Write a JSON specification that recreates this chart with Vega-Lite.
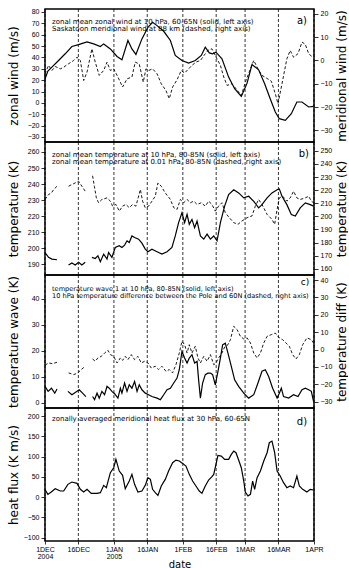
{
  "$schema": "https://vega.github.io/schema/vega-lite/v6.json",
  "padding": {"left": 6, "top": 7, "right": 0, "bottom": 0},
  "config": {
    "view": {"stroke": "black", "strokeWidth": 1.5},
    "axis": {"grid": false, "domain": false, "ticks": true, "tickColor": "black", "tickSize": 4, "tickWidth": 0.8, "labelFont": "Liberation Sans", "labelFontSize": 7, "labelColor": "black", "labelPadding": 2, "titleFont": "DejaVu Sans", "titleFontSize": 12, "titleFontWeight": "normal", "titleColor": "black"},
    "text": {"font": "DejaVu Sans", "color": "black"}
  },
  "datasets": {
    "dateLines": [{"day":0},{"day":15},{"day":31},{"day":46},{"day":62},{"day":77},{"day":90},{"day":105},{"day":121}],
    "a_zonal_wind": [{"day":0,"value":21},{"day":1.3,"value":28},{"day":3.1,"value":31.5},{"day":6.1,"value":37.3},{"day":9.1,"value":43.2},{"day":12.1,"value":49.6},{"day":15.1,"value":51.3},{"day":18.9,"value":53.7},{"day":21.9,"value":51.9},{"day":24.9,"value":49.6},{"day":26.4,"value":51.9},{"day":29.4,"value":47.5},{"day":32.4,"value":40.8},{"day":34.6,"value":37.9},{"day":37.3,"value":54.9},{"day":39.1,"value":47.5},{"day":40.9,"value":42.6},{"day":43.6,"value":56.3},{"day":46.3,"value":66.5},{"day":48.4,"value":70.9},{"day":50.4,"value":68},{"day":53.4,"value":63},{"day":56.4,"value":54.9},{"day":58.6,"value":41.7},{"day":61.6,"value":37.3},{"day":64.6,"value":35},{"day":67.6,"value":37.3},{"day":70.3,"value":41.7},{"day":72.1,"value":49},{"day":73.9,"value":44},{"day":75.4,"value":43.2},{"day":76.9,"value":44.6},{"day":79.6,"value":38.8},{"day":82.6,"value":22.7},{"day":85.3,"value":12.5},{"day":88.3,"value":5.7},{"day":90.9,"value":17.4},{"day":93.1,"value":33.8},{"day":96.1,"value":29.1},{"day":98.8,"value":16.8},{"day":101.3,"value":3.7},{"day":103.6,"value":-8},{"day":105.4,"value":-13.9},{"day":108.1,"value":-15.3},{"day":110.8,"value":-9.5},{"day":113.3,"value":0.8},{"day":115.6,"value":0.8},{"day":118.6,"value":-3.6},{"day":120.8,"value":-3}],
    "a_meridional_wind": [{"day":0,"value":-5.7},{"day":1.6,"value":-2.1},{"day":3.1,"value":-4.3},{"day":4.6,"value":-2.6},{"day":6.9,"value":-3.6},{"day":8.4,"value":-2.9},{"day":10.6,"value":-1.4},{"day":12.9,"value":0},{"day":14.4,"value":1.4},{"day":15.9,"value":0},{"day":17.4,"value":-8.6},{"day":18.9,"value":-5},{"day":21.1,"value":5},{"day":22.6,"value":-0.7},{"day":24.4,"value":-6.4},{"day":26.4,"value":-4.3},{"day":27.9,"value":-0.7},{"day":29.4,"value":-4.3},{"day":30.9,"value":-3.6},{"day":32.8,"value":-7.1},{"day":34.9,"value":-11.4},{"day":36.9,"value":-7.9},{"day":39.1,"value":-7.1},{"day":40.6,"value":-0.7},{"day":42.4,"value":-1.5},{"day":44.2,"value":-9.3},{"day":45.4,"value":-3.6},{"day":46.6,"value":-4.3},{"day":48.4,"value":-3.6},{"day":50.4,"value":-5.7},{"day":52.3,"value":-10},{"day":54.4,"value":-12.9},{"day":55.9,"value":-16.4},{"day":57.4,"value":-11.4},{"day":59.4,"value":-8.3},{"day":61.3,"value":-4.3},{"day":62.8,"value":-5.4},{"day":64.6,"value":-3.6},{"day":66.1,"value":-2.1},{"day":67.9,"value":-0.7},{"day":69.9,"value":0},{"day":72.1,"value":2.9},{"day":73.6,"value":4.6},{"day":75.1,"value":5},{"day":76.6,"value":2.1},{"day":78.9,"value":-2.1},{"day":80.4,"value":-7.1},{"day":81.9,"value":-10.7},{"day":84.1,"value":-10},{"day":85.9,"value":-12.1},{"day":88.3,"value":-15},{"day":90.4,"value":-8.6},{"day":92.4,"value":-3.6},{"day":93.9,"value":0},{"day":95.8,"value":-3.6},{"day":97.6,"value":-6.4},{"day":99.4,"value":-7.4},{"day":101.8,"value":-8.9},{"day":103.6,"value":-14.3},{"day":104.8,"value":-18.6},{"day":106.6,"value":-10},{"day":108.8,"value":0.7},{"day":110.3,"value":4.3},{"day":111.8,"value":1.4},{"day":113.8,"value":2.9},{"day":115.6,"value":7.9},{"day":117.1,"value":6.9},{"day":118.6,"value":2.9},{"day":120.4,"value":1.4}],
    "b_temp_10hPa": [{"day":0,"value":197.4},{"day":1.6,"value":194.4},{"day":3.1,"value":193.3},{"day":5.4,"value":192.9},{"day":7.5,"value":null},{"day":10.6,"value":189.6},{"day":12.1,"value":190.9},{"day":13.6,"value":189.6},{"day":15.1,"value":191.3},{"day":16.6,"value":189.6},{"day":18.1,"value":191.3},{"day":19.6,"value":null},{"day":21.1,"value":194.4},{"day":22.6,"value":193.7},{"day":23.8,"value":195.4},{"day":24.9,"value":191.7},{"day":26.4,"value":196.4},{"day":27.9,"value":193.3},{"day":28.6,"value":197.4},{"day":30.1,"value":194.4},{"day":31.6,"value":200.5},{"day":33.4,"value":201.6},{"day":34.6,"value":200.5},{"day":35.8,"value":202},{"day":36.9,"value":204.7},{"day":37.9,"value":203.6},{"day":39.1,"value":207.7},{"day":40.3,"value":206.7},{"day":42.1,"value":205.7},{"day":43.6,"value":203.2},{"day":45.1,"value":199.5},{"day":46.3,"value":197.9},{"day":48.1,"value":199.5},{"day":50.4,"value":197.9},{"day":52.6,"value":196.4},{"day":54.9,"value":197.9},{"day":57.1,"value":200.5},{"day":58.6,"value":207.7},{"day":60.1,"value":216},{"day":61.6,"value":222.1},{"day":62.8,"value":216},{"day":63.9,"value":221.1},{"day":64.9,"value":215},{"day":66.1,"value":218},{"day":67.3,"value":212.9},{"day":68.4,"value":217},{"day":69.9,"value":207.7},{"day":71.4,"value":205.7},{"day":72.9,"value":208.8},{"day":74.4,"value":205.7},{"day":75.9,"value":207.7},{"day":77.4,"value":204.7},{"day":78.9,"value":216},{"day":80.8,"value":226.3},{"day":82.6,"value":233.5},{"day":84.9,"value":236.5},{"day":87.1,"value":234.5},{"day":89.4,"value":231.4},{"day":91.6,"value":232.4},{"day":93.9,"value":229.3},{"day":96.1,"value":225.2},{"day":97.6,"value":227.2},{"day":99.9,"value":231.4},{"day":102.1,"value":234.5},{"day":104.4,"value":236.5},{"day":105.4,"value":237},{"day":106.6,"value":232.4},{"day":108.8,"value":227.2},{"day":110.8,"value":221.1},{"day":112.6,"value":220.1},{"day":114.8,"value":225.2},{"day":117.1,"value":228.3},{"day":119.3,"value":227.2},{"day":120.8,"value":226.3}],
    "b_temp_001hPa": [{"day":0,"value":212.9},{"day":1.6,"value":216.7},{"day":2.9,"value":217.9},{"day":3.9,"value":220.5},{"day":5.4,"value":223},{"day":7.5,"value":null},{"day":10.6,"value":223},{"day":12.9,"value":225},{"day":15.1,"value":226.8},{"day":16.6,"value":223},{"day":18.1,"value":219.2},{"day":19.6,"value":null},{"day":21.4,"value":231},{"day":22.2,"value":223},{"day":23.1,"value":214.1},{"day":24.1,"value":210.4},{"day":25.6,"value":212.9},{"day":27.9,"value":214.1},{"day":29.4,"value":211.6},{"day":30.4,"value":207.8},{"day":31.9,"value":209.1},{"day":33.4,"value":204},{"day":34.9,"value":207.8},{"day":36.4,"value":209.1},{"day":37.9,"value":206.6},{"day":39.4,"value":209.1},{"day":40.9,"value":207.8},{"day":42.9,"value":220.5},{"day":43.9,"value":211.6},{"day":45.1,"value":206.6},{"day":46.6,"value":207.8},{"day":48.1,"value":211.6},{"day":49.6,"value":215.4},{"day":50.8,"value":225.5},{"day":52.3,"value":223},{"day":54.1,"value":217.9},{"day":56.4,"value":212.9},{"day":57.9,"value":206.6},{"day":59.4,"value":205.3},{"day":60.9,"value":212.9},{"day":62.4,"value":210.4},{"day":63.9,"value":212.9},{"day":65.4,"value":210.4},{"day":66.9,"value":211.6},{"day":68.4,"value":209.1},{"day":70.3,"value":210.4},{"day":72.1,"value":207.8},{"day":73.6,"value":211.6},{"day":75.1,"value":209.1},{"day":76.6,"value":204},{"day":78.1,"value":207.8},{"day":79.6,"value":210.4},{"day":81.1,"value":202.8},{"day":82.9,"value":199},{"day":84.9,"value":195.2},{"day":86.8,"value":193.9},{"day":88.6,"value":196.5},{"day":90.9,"value":199},{"day":93.1,"value":200.3},{"day":94.6,"value":207.8},{"day":96.1,"value":212.9},{"day":97.6,"value":209.1},{"day":99.9,"value":201.5},{"day":102.1,"value":197.7},{"day":103.3,"value":193.9},{"day":104.4,"value":205.3},{"day":105.4,"value":214.1},{"day":106.9,"value":215.4},{"day":108.8,"value":211.6},{"day":110.3,"value":214.1},{"day":111.8,"value":219.2},{"day":113.3,"value":214.1},{"day":114.8,"value":212.9},{"day":117.1,"value":214.1},{"day":118.6,"value":215.4},{"day":119.8,"value":211.6},{"day":120.8,"value":210.4}],
    "c_wave1": [{"day":0,"value":6.3},{"day":1.4,"value":4.4},{"day":2.9,"value":5.6},{"day":4.4,"value":3.7},{"day":5.4,"value":5.3},{"day":7.5,"value":null},{"day":10.3,"value":4.4},{"day":12.1,"value":3.1},{"day":13.6,"value":4},{"day":15.4,"value":5},{"day":16.9,"value":3.7},{"day":18.4,"value":2.4},{"day":19.8,"value":null},{"day":21.4,"value":2.4},{"day":22.3,"value":1.2},{"day":23.4,"value":3.7},{"day":24.4,"value":1.8},{"day":25.6,"value":4.4},{"day":26.8,"value":3.1},{"day":27.9,"value":6.3},{"day":28.9,"value":5.6},{"day":30.1,"value":4.4},{"day":31.3,"value":3.5},{"day":32.8,"value":1.8},{"day":33.9,"value":5.6},{"day":34.6,"value":3.7},{"day":35.8,"value":7.6},{"day":36.9,"value":4.4},{"day":37.9,"value":6.9},{"day":39.1,"value":5.6},{"day":40.3,"value":8.2},{"day":41.4,"value":4.4},{"day":42.4,"value":6.9},{"day":43.6,"value":5},{"day":45.1,"value":3.7},{"day":46.6,"value":3.1},{"day":48.1,"value":2.4},{"day":50.4,"value":1.8},{"day":51.9,"value":1.2},{"day":53.4,"value":3.1},{"day":54.9,"value":5},{"day":56.4,"value":5.6},{"day":57.9,"value":7.6},{"day":59.4,"value":9.5},{"day":60.4,"value":12.7},{"day":61.6,"value":19.7},{"day":62.8,"value":17.2},{"day":63.9,"value":15.3},{"day":64.9,"value":17.2},{"day":66.1,"value":18.5},{"day":67.3,"value":15.3},{"day":68.4,"value":15.9},{"day":69.1,"value":8.8},{"day":69.9,"value":1.8},{"day":70.9,"value":7.6},{"day":72.1,"value":10.8},{"day":73.3,"value":11.4},{"day":74.4,"value":11.4},{"day":75.4,"value":10.8},{"day":76.6,"value":6.9},{"day":77.8,"value":12.1},{"day":78.9,"value":17.2},{"day":79.9,"value":22.3},{"day":81.1,"value":22.9},{"day":82.3,"value":19.1},{"day":83.8,"value":14},{"day":85.3,"value":8.8},{"day":87.1,"value":6.3},{"day":89.4,"value":3.7},{"day":91.6,"value":1.8},{"day":93.9,"value":3.1},{"day":95.8,"value":7.6},{"day":97.6,"value":12.1},{"day":99.1,"value":12.7},{"day":100.6,"value":10.1},{"day":102.4,"value":5.6},{"day":104.4,"value":1.8},{"day":105.4,"value":3.7},{"day":106.3,"value":5.6},{"day":107.3,"value":2.4},{"day":109.6,"value":1.8},{"day":111.8,"value":3.1},{"day":113.8,"value":2.4},{"day":115.6,"value":5},{"day":117.1,"value":5.6},{"day":118.6,"value":5},{"day":119.8,"value":4.4},{"day":120.8,"value":0.5}],
    "c_pole_minus_60N": [{"day":0,"value":-9},{"day":1.6,"value":-7.7},{"day":3.4,"value":-8.1},{"day":5.4,"value":-7.3},{"day":7.5,"value":null},{"day":10.6,"value":-13.4},{"day":12.9,"value":-14.4},{"day":14.8,"value":-13.4},{"day":16.3,"value":-11.5},{"day":18.1,"value":-9.6},{"day":19.8,"value":null},{"day":21.4,"value":-5.4},{"day":22.6,"value":-6.7},{"day":23.8,"value":-4.8},{"day":25.3,"value":-3.9},{"day":26.8,"value":-2},{"day":28.3,"value":-0.4},{"day":29.4,"value":-2.9},{"day":30.9,"value":-3.9},{"day":32.4,"value":-7.7},{"day":33.9,"value":-4.8},{"day":34.9,"value":-6.2},{"day":36.1,"value":-3.9},{"day":37.3,"value":-5.8},{"day":38.8,"value":-2.9},{"day":40.3,"value":-5.8},{"day":41.8,"value":-3.9},{"day":43.3,"value":-7.7},{"day":44.8,"value":-6.7},{"day":46.3,"value":-7.7},{"day":47.8,"value":-10.6},{"day":49.6,"value":-9.6},{"day":51.1,"value":-11.5},{"day":52.6,"value":-9.6},{"day":54.4,"value":-12.5},{"day":55.9,"value":-11.5},{"day":57.4,"value":-13.4},{"day":58.9,"value":-8.7},{"day":60.4,"value":-2},{"day":61.6,"value":4.8},{"day":62.8,"value":2.8},{"day":63.9,"value":-2},{"day":64.9,"value":2.8},{"day":66.1,"value":-2},{"day":67.6,"value":1.9},{"day":68.8,"value":-4.8},{"day":69.9,"value":-7.7},{"day":71.4,"value":-3.9},{"day":72.9,"value":-6.7},{"day":74.4,"value":-2.9},{"day":75.9,"value":-8.7},{"day":76.9,"value":-7.7},{"day":78.1,"value":-4.8},{"day":79.6,"value":-2},{"day":80.8,"value":1.5},{"day":82.3,"value":2.8},{"day":83.4,"value":5.7},{"day":84.9,"value":13.4},{"day":86.4,"value":11.5},{"day":87.9,"value":7.6},{"day":89.4,"value":6.1},{"day":90.9,"value":6.7},{"day":92.4,"value":3.8},{"day":93.9,"value":-2},{"day":95.4,"value":-4.8},{"day":96.9,"value":-2},{"day":98.4,"value":3.8},{"day":99.9,"value":7.6},{"day":101.8,"value":8.6},{"day":103.6,"value":9.5},{"day":105.4,"value":6.7},{"day":106.9,"value":5.7},{"day":108.4,"value":3.8},{"day":109.9,"value":1.9},{"day":111.4,"value":-2.9},{"day":112.9,"value":-5.4},{"day":114.4,"value":-2.9},{"day":115.9,"value":2.8},{"day":117.8,"value":6.7},{"day":119.8,"value":5.7},{"day":120.8,"value":3.8}],
    "d_heat_flux": [{"day":0,"value":19},{"day":1.3,"value":7},{"day":2.8,"value":12.8},{"day":4.6,"value":21},{"day":6.9,"value":15.3},{"day":8.4,"value":15.3},{"day":10.3,"value":31.7},{"day":12.1,"value":37.4},{"day":14.4,"value":34.2},{"day":15.9,"value":19.4},{"day":17.4,"value":12.8},{"day":18.9,"value":19.4},{"day":20.8,"value":9.5},{"day":23.4,"value":9.5},{"day":24.9,"value":11.2},{"day":26.4,"value":29.2},{"day":27.6,"value":23.5},{"day":29.4,"value":60.4},{"day":30.9,"value":72.7},{"day":31.9,"value":93.3},{"day":33.4,"value":64.5},{"day":34.9,"value":53.9},{"day":36.1,"value":21},{"day":37.9,"value":39.9},{"day":39.1,"value":56.3},{"day":40.3,"value":31.7},{"day":41.8,"value":12.8},{"day":43.6,"value":15.3},{"day":45.1,"value":29.2},{"day":46.3,"value":48.1},{"day":47.4,"value":44},{"day":48.4,"value":19.4},{"day":49.6,"value":11.2},{"day":50.8,"value":4.6},{"day":52.3,"value":27.6},{"day":54.1,"value":44},{"day":55.6,"value":64.5},{"day":57.4,"value":85},{"day":58.9,"value":91.6},{"day":60.4,"value":89.2},{"day":61.9,"value":83.4},{"day":63.4,"value":76.8},{"day":64.9,"value":56.3},{"day":66.4,"value":39.9},{"day":67.9,"value":27.6},{"day":69.4,"value":15.3},{"day":70.6,"value":9.5},{"day":72.1,"value":27.6},{"day":73.6,"value":42.4},{"day":75.1,"value":50.6},{"day":75.9,"value":56.3},{"day":76.9,"value":81},{"day":77.8,"value":103.1},{"day":79.3,"value":101.5},{"day":80.8,"value":93.3},{"day":82.6,"value":93.3},{"day":83.8,"value":105.6},{"day":84.9,"value":113.8},{"day":85.9,"value":109.7},{"day":87.1,"value":91.6},{"day":88.3,"value":72.7},{"day":89.4,"value":39.9},{"day":90.1,"value":12.8},{"day":91.3,"value":3},{"day":92.4,"value":7},{"day":93.4,"value":39.9},{"day":94.3,"value":19.4},{"day":95.4,"value":48.1},{"day":96.9,"value":64.5},{"day":98.4,"value":89.2},{"day":99.9,"value":109.7},{"day":100.9,"value":134.3},{"day":102.1,"value":138.4},{"day":103.3,"value":109.7},{"day":104.4,"value":64.5},{"day":105.8,"value":52.2},{"day":107.3,"value":35.8},{"day":108.8,"value":23.5},{"day":110.3,"value":27.6},{"day":111.8,"value":23.5},{"day":113.3,"value":52.2},{"day":114.4,"value":27.6},{"day":115.9,"value":19.4},{"day":117.8,"value":12.8},{"day":119.3,"value":19.4},{"day":120.8,"value":17.7}]
  },
  "vconcat": [
    {
      "width": 269, "height": 133,
      "resolve": {"scale": {"y": "independent"}},
      "layer": [
        {
          "layer": [
            {"data": {"name": "dateLines"}, "mark": {"type": "rule", "color": "black", "strokeWidth": 0.8, "strokeDash": [3, 2]},
             "encoding": {"x": {"field": "day", "type": "quantitative", "scale": {"domain": [0, 121], "nice": false, "zero": false}, "axis": null}}},
            {"data": {"name": "a_zonal_wind"}, "mark": {"type": "line", "color": "black", "strokeWidth": 1.2},
             "encoding": {"x": {"field": "day", "type": "quantitative", "axis": null},
                          "y": {"field": "value", "type": "quantitative", "scale": {"domain": [-34.4, 82.6], "nice": false, "zero": false},
                                "axis": {"orient": "left", "values": [-30,-20,-10,0,10,20,30,40,50,60,70,80], "title": "zonal wind (m/s)", "minExtent": 20, "maxExtent": 20, "titlePadding": 5}}}},
            {"data": {"values": [{}]}, "mark": {"type": "text", "align": "left", "baseline": "middle", "fontSize": 7, "lineHeight": 7},
             "encoding": {"x": {"datum": 3.15, "type": "quantitative", "axis": null},
                          "y": {"datum": 70.9, "type": "quantitative", "axis": {"orient": "left", "values": [-30,-20,-10,0,10,20,30,40,50,60,70,80], "title": "zonal wind (m/s)", "minExtent": 20, "maxExtent": 20, "titlePadding": 5}},
                          "text": {"value": ["zonal mean zonal wind at 10 hPa, 60-65N (solid, left axis)", "Saskatoon meridional wind at 88 km (dashed, right axis)"]}}},
            {"data": {"values": [{}]}, "mark": {"type": "text", "align": "center", "baseline": "middle", "fontSize": 10},
             "encoding": {"x": {"datum": 115.6, "type": "quantitative", "axis": null},
                          "y": {"datum": 72, "type": "quantitative", "axis": {"orient": "left", "values": [-30,-20,-10,0,10,20,30,40,50,60,70,80], "title": "zonal wind (m/s)", "minExtent": 20, "maxExtent": 20, "titlePadding": 5}},
                          "text": {"value": "a)"}}}
          ]
        },
        {"data": {"name": "a_meridional_wind"}, "mark": {"type": "line", "color": "black", "strokeWidth": 0.9, "strokeDash": [3, 2]},
         "encoding": {"x": {"field": "day", "type": "quantitative", "axis": null},
                      "y": {"field": "value", "type": "quantitative", "scale": {"domain": [-35, 22.1], "nice": false, "zero": false},
                            "axis": {"orient": "right", "values": [-30,-20,-10,0,10,20], "title": "meridional wind (m/s)", "titleAngle": -90, "titleBaseline": "top", "minExtent": 18, "maxExtent": 18, "titlePadding": 4}}}}
      ]
    },
    {
      "width": 269, "height": 133,
      "resolve": {"scale": {"y": "independent"}},
      "layer": [
        {
          "layer": [
            {"data": {"name": "dateLines"}, "mark": {"type": "rule", "color": "black", "strokeWidth": 0.8, "strokeDash": [3, 2]},
             "encoding": {"x": {"field": "day", "type": "quantitative", "scale": {"domain": [0, 121], "nice": false, "zero": false}, "axis": null}}},
            {"data": {"name": "b_temp_10hPa"}, "mark": {"type": "line", "color": "black", "strokeWidth": 1.2, "invalid": "break-paths-show-domains"},
             "encoding": {"x": {"field": "day", "type": "quantitative", "axis": null},
                          "y": {"field": "value", "type": "quantitative", "scale": {"domain": [183.4, 266.2], "nice": false, "zero": false},
                                "axis": {"orient": "left", "values": [190,200,210,220,230,240,250,260], "title": "temperature (K)", "minExtent": 20, "maxExtent": 20, "titlePadding": 5}}}},
            {"data": {"values": [{}]}, "mark": {"type": "text", "align": "left", "baseline": "middle", "fontSize": 7, "lineHeight": 7},
             "encoding": {"x": {"datum": 3.15, "type": "quantitative", "axis": null},
                          "y": {"datum": 258.1, "type": "quantitative", "axis": {"orient": "left", "values": [190,200,210,220,230,240,250,260], "title": "temperature (K)", "minExtent": 20, "maxExtent": 20, "titlePadding": 5}},
                          "text": {"value": ["zonal mean temperature at 10 hPa, 80-85N (solid, left axis)", "zonal mean temperature at 0.01 hPa, 80-85N (dashed, right axis)"]}}},
            {"data": {"values": [{}]}, "mark": {"type": "text", "align": "center", "baseline": "middle", "fontSize": 10},
             "encoding": {"x": {"datum": 116.4, "type": "quantitative", "axis": null},
                          "y": {"datum": 258.7, "type": "quantitative", "axis": {"orient": "left", "values": [190,200,210,220,230,240,250,260], "title": "temperature (K)", "minExtent": 20, "maxExtent": 20, "titlePadding": 5}},
                          "text": {"value": "b)"}}}
          ]
        },
        {"data": {"name": "b_temp_001hPa"}, "mark": {"type": "line", "color": "black", "strokeWidth": 0.9, "strokeDash": [3, 2], "invalid": "break-paths-show-domains"},
         "encoding": {"x": {"field": "day", "type": "quantitative", "axis": null},
                      "y": {"field": "value", "type": "quantitative", "scale": {"domain": [155.2, 256.8], "nice": false, "zero": false},
                            "axis": {"orient": "right", "values": [160,170,180,190,200,210,220,230,240,250], "title": "temperature (K)", "titleAngle": -90, "titleBaseline": "top", "minExtent": 18, "maxExtent": 18, "titlePadding": 4}}}}
      ]
    },
    {
      "width": 269, "height": 133,
      "resolve": {"scale": {"y": "independent"}},
      "layer": [
        {
          "layer": [
            {"data": {"name": "dateLines"}, "mark": {"type": "rule", "color": "black", "strokeWidth": 0.8, "strokeDash": [3, 2]},
             "encoding": {"x": {"field": "day", "type": "quantitative", "scale": {"domain": [0, 121], "nice": false, "zero": false}, "axis": null}}},
            {"data": {"name": "c_wave1"}, "mark": {"type": "line", "color": "black", "strokeWidth": 1.2, "invalid": "break-paths-show-domains"},
             "encoding": {"x": {"field": "day", "type": "quantitative", "axis": null},
                          "y": {"field": "value", "type": "quantitative", "scale": {"domain": [-2, 49.1], "nice": false, "zero": false},
                                "axis": {"orient": "left", "values": [0,10,20,30,40], "title": "temperature wave (K)", "minExtent": 20, "maxExtent": 20, "titlePadding": 5}}}},
            {"data": {"values": [{}]}, "mark": {"type": "text", "align": "left", "baseline": "middle", "fontSize": 6.6, "lineHeight": 7},
             "encoding": {"x": {"datum": 3.15, "type": "quantitative", "axis": null},
                          "y": {"datum": 43.9, "type": "quantitative", "axis": {"orient": "left", "values": [0,10,20,30,40], "title": "temperature wave (K)", "minExtent": 20, "maxExtent": 20, "titlePadding": 5}},
                          "text": {"value": ["temperature wave 1 at 10 hPa, 80-85N (solid, left axis)", "10 hPa temperature difference between the Pole and 60N (dashed, right axis)"]}}},
            {"data": {"values": [{}]}, "mark": {"type": "text", "align": "center", "baseline": "middle", "fontSize": 9},
             "encoding": {"x": {"datum": 117, "type": "quantitative", "axis": null},
                          "y": {"datum": 46.3, "type": "quantitative", "axis": {"orient": "left", "values": [0,10,20,30,40], "title": "temperature wave (K)", "minExtent": 20, "maxExtent": 20, "titlePadding": 5}},
                          "text": {"value": "c)"}}}
          ]
        },
        {"data": {"name": "c_pole_minus_60N"}, "mark": {"type": "line", "color": "black", "strokeWidth": 0.9, "strokeDash": [3, 2], "invalid": "break-paths-show-domains"},
         "encoding": {"x": {"field": "day", "type": "quantitative", "axis": null},
                      "y": {"field": "value", "type": "quantitative", "scale": {"domain": [-33.6, 42.9], "nice": false, "zero": false},
                            "axis": {"orient": "right", "values": [-30,-20,-10,0,10,20,30,40], "title": "temperature diff (K)", "titleAngle": -90, "titleBaseline": "top", "minExtent": 18, "maxExtent": 18, "titlePadding": 4}}}}
      ]
    },
    {
      "width": 269, "height": 133,
      "layer": [
        {"data": {"name": "dateLines"}, "mark": {"type": "rule", "color": "black", "strokeWidth": 0.8, "strokeDash": [3, 2]},
         "encoding": {"x": {"field": "day", "type": "quantitative", "scale": {"domain": [0, 121], "nice": false, "zero": false},
                            "axis": {"values": [0,15,31,46,62,77,90,105,121], "title": "date", "titleFontSize": 10, "titlePadding": 0, "tickSize": 3, "labelPadding": 1, "labelFlush": false, "labelOverlap": false, "labelLineHeight": 7, "labelBaseline": "top", "labelExpr": "datum.value == 0 ? ['1DEC','2004'] : datum.value == 15 ? '16DEC' : datum.value == 31 ? ['1JAN','2005'] : datum.value == 46 ? '16JAN' : datum.value == 62 ? '1FEB' : datum.value == 77 ? '16FEB' : datum.value == 90 ? '1MAR' : datum.value == 105 ? '16MAR' : '1APR'"}}}},
        {"data": {"name": "d_heat_flux"}, "mark": {"type": "line", "color": "black", "strokeWidth": 1.2},
         "encoding": {"x": {"field": "day", "type": "quantitative",
                            "axis": {"values": [0,15,31,46,62,77,90,105,121], "title": "date", "titleFontSize": 10, "titlePadding": 0, "tickSize": 3, "labelPadding": 1, "labelFlush": false, "labelOverlap": false, "labelLineHeight": 7, "labelBaseline": "top", "labelExpr": "datum.value == 0 ? ['1DEC','2004'] : datum.value == 15 ? '16DEC' : datum.value == 31 ? ['1JAN','2005'] : datum.value == 46 ? '16JAN' : datum.value == 62 ? '1FEB' : datum.value == 77 ? '16FEB' : datum.value == 90 ? '1MAR' : datum.value == 105 ? '16MAR' : '1APR'"}},
                      "y": {"field": "value", "type": "quantitative", "scale": {"domain": [-108, 220], "nice": false, "zero": false},
                            "axis": {"orient": "left", "values": [-100,-50,0,50,100,150,200], "title": "heat flux (K m/s)", "minExtent": 20, "maxExtent": 20, "titlePadding": 5}}}},
        {"data": {"values": [{}]}, "mark": {"type": "text", "align": "left", "baseline": "middle", "fontSize": 7},
         "encoding": {"x": {"datum": 3.15, "type": "quantitative",
                            "axis": {"values": [0,15,31,46,62,77,90,105,121], "title": "date", "titleFontSize": 10, "titlePadding": 0, "tickSize": 3, "labelPadding": 1, "labelFlush": false, "labelOverlap": false, "labelLineHeight": 7, "labelBaseline": "top", "labelExpr": "datum.value == 0 ? ['1DEC','2004'] : datum.value == 15 ? '16DEC' : datum.value == 31 ? ['1JAN','2005'] : datum.value == 46 ? '16JAN' : datum.value == 62 ? '1FEB' : datum.value == 77 ? '16FEB' : datum.value == 90 ? '1MAR' : datum.value == 105 ? '16MAR' : '1APR'"}},
                      "y": {"datum": 192.1, "type": "quantitative", "axis": {"orient": "left", "values": [-100,-50,0,50,100,150,200], "title": "heat flux (K m/s)", "minExtent": 20, "maxExtent": 20, "titlePadding": 5}},
                      "text": {"value": "zonally averaged meridional heat flux at 30 hPa, 60-65N"}}},
        {"data": {"values": [{}]}, "mark": {"type": "text", "align": "center", "baseline": "middle", "fontSize": 10},
         "encoding": {"x": {"datum": 115.6, "type": "quantitative",
                            "axis": {"values": [0,15,31,46,62,77,90,105,121], "title": "date", "titleFontSize": 10, "titlePadding": 0, "tickSize": 3, "labelPadding": 1, "labelFlush": false, "labelOverlap": false, "labelLineHeight": 7, "labelBaseline": "top", "labelExpr": "datum.value == 0 ? ['1DEC','2004'] : datum.value == 15 ? '16DEC' : datum.value == 31 ? ['1JAN','2005'] : datum.value == 46 ? '16JAN' : datum.value == 62 ? '1FEB' : datum.value == 77 ? '16FEB' : datum.value == 90 ? '1MAR' : datum.value == 105 ? '16MAR' : '1APR'"}},
                      "y": {"datum": 185.5, "type": "quantitative", "axis": {"orient": "left", "values": [-100,-50,0,50,100,150,200], "title": "heat flux (K m/s)", "minExtent": 20, "maxExtent": 20, "titlePadding": 5}},
                      "text": {"value": "d)"}}}
      ]
    }
  ],
  "spacing": 0,
  "bounds": "flush"
}
